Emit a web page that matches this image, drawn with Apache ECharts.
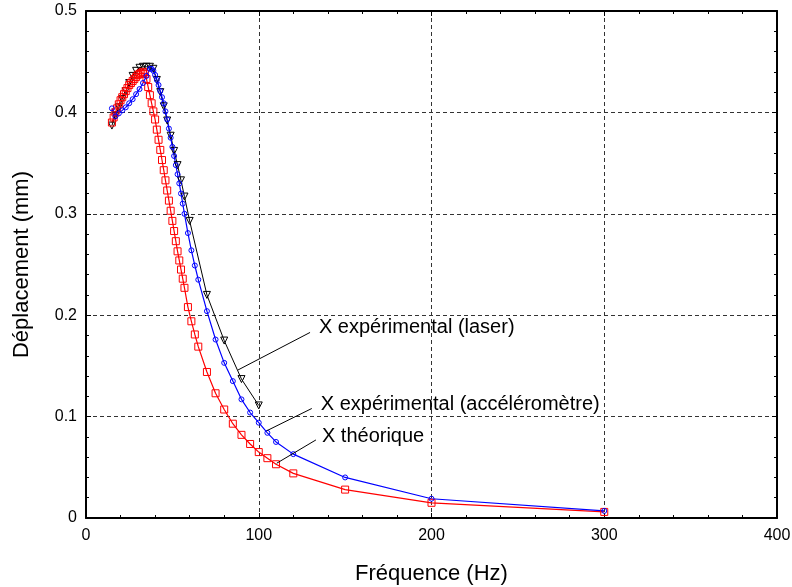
<!DOCTYPE html>
<html>
<head>
<meta charset="utf-8">
<script src="https://cdn.jsdelivr.net/npm/echarts@6.0.0/dist/echarts.min.js"></script>
<style>
  html, body { margin: 0; padding: 0; background: #fff; }
  #chart { width: 792px; height: 587px; }
</style>
</head>
<body>
<div id="chart"></div>
<script>
// X théorique (carrés rouges)
const freqTheo = [15, 16, 17, 18, 19, 20, 21, 22, 23, 24, 25, 26, 27, 28, 29, 30, 31, 32, 33, 34, 35, 36, 37, 38, 39,
  40, 41, 42, 43, 44, 45, 46, 47, 48, 49, 50, 51, 52, 53, 54, 55, 56, 57, 59, 61, 63, 65,
  70, 75, 80, 85, 90, 95, 100, 105, 110, 120, 150, 200, 300];
const dispTheo = [0.390, 0.395, 0.400, 0.404, 0.408, 0.412, 0.415, 0.418, 0.421, 0.424, 0.427, 0.429, 0.431, 0.433, 0.435, 0.437, 0.438, 0.439, 0.440, 0.438, 0.433, 0.425, 0.417, 0.409, 0.401,
  0.393, 0.383, 0.373, 0.363, 0.353, 0.343, 0.333, 0.323, 0.313, 0.303, 0.293, 0.283, 0.273, 0.263, 0.254, 0.245, 0.236, 0.227, 0.208, 0.194, 0.181, 0.169,
  0.144, 0.123, 0.107, 0.093, 0.082, 0.073, 0.065, 0.059, 0.053, 0.044, 0.028, 0.015, 0.006];

// X expérimental (accéléromètre) (cercles bleus)
const freqAccel = [15, 17, 19, 21, 23, 25, 27, 29, 31, 33, 35, 37, 38, 39, 40, 41, 42, 43, 44, 45, 46, 47, 48, 49,
  50, 51, 52, 53, 54, 55, 56, 57, 59, 61, 63, 65, 70, 75, 80, 85, 90, 95, 100, 105, 110, 120, 150, 200, 300];
const dispAccel = [0.404, 0.396, 0.399, 0.402, 0.405, 0.409, 0.413, 0.418, 0.423, 0.429, 0.436, 0.443, 0.443, 0.441, 0.437, 0.432, 0.427, 0.421, 0.415, 0.409, 0.401, 0.393, 0.384, 0.375,
  0.366, 0.357, 0.348, 0.339, 0.330, 0.320, 0.310, 0.300, 0.281, 0.264, 0.249, 0.235, 0.204, 0.176, 0.153, 0.135, 0.117, 0.104, 0.094, 0.084, 0.075, 0.063, 0.040, 0.019, 0.007];

// X expérimental (laser) (triangles noirs)
const freqLaser = [15, 17, 19, 21, 23, 25, 27, 29, 31, 33, 35, 37, 39, 41, 43, 45, 47, 49, 51, 53, 55, 57, 60, 70, 80, 90, 100];
const dispLaser = [0.387, 0.397, 0.405, 0.413, 0.421, 0.429, 0.436, 0.441, 0.444, 0.445, 0.445, 0.445, 0.443, 0.432, 0.420, 0.406, 0.392, 0.377, 0.362, 0.348, 0.333, 0.317, 0.293, 0.220, 0.175, 0.137, 0.111];

// annotations : texte, point sur la courbe, bout du trait (coordonnées données)
const noteTexts = ['X expérimental (laser)', 'X expérimental (accéléromètre)', 'X théorique'];
const noteFrom = [[88, 0.146], [104.6, 0.086], [110.4, 0.054]];
const noteTo = [[129.7, 0.183], [130.7, 0.108], [133.1, 0.077]];

const FONT = "'Liberation Sans', Arial, sans-serif";

function pairs(xs, ys) {
  return xs.map((x, i) => [x, ys[i]]);
}

const chart = echarts.init(document.getElementById('chart'));

const axisBase = {
  type: 'value',
  axisLine: { show: true, onZero: false, lineStyle: { color: '#000', width: 2 } },
  axisTick: { show: true, inside: true, length: 5, lineStyle: { color: '#000', width: 1 } },
  minorTick: { show: true, splitNumber: 5, length: 3, lineStyle: { color: '#000', width: 1 } },
};
const gridLine = { show: true, lineStyle: { color: '#333', width: 1, type: [4, 3] } };

const option = {
  animation: false,
  grid: { left: 86, right: 15, top: 11, bottom: 69, containLabel: false, outerBoundsMode: 'none' },
  xAxis: [
    Object.assign({}, axisBase, {
      position: 'bottom', min: 0, max: 400, interval: 100,
      axisLabel: { color: '#000', fontSize: 16, margin: 10, fontFamily: FONT },
      splitLine: gridLine,
      name: 'Fréquence (Hz)', nameLocation: 'middle', nameGap: 45,
      nameTextStyle: { color: '#000', fontSize: 22, fontFamily: FONT },
    }),
    Object.assign({}, axisBase, {
      position: 'top', min: 0, max: 400, interval: 100,
      axisLabel: { show: false }, splitLine: { show: false },
    }),
  ],
  yAxis: [
    Object.assign({}, axisBase, {
      position: 'left', min: 0, max: 0.5, interval: 0.1,
      axisLabel: { color: '#000', fontSize: 16, margin: 9, fontFamily: FONT },
      splitLine: gridLine,
      name: 'Déplacement (mm)', nameLocation: 'middle', nameGap: 53,
      nameTextStyle: { color: '#000', fontSize: 22, fontFamily: FONT },
    }),
    Object.assign({}, axisBase, {
      position: 'right', min: 0, max: 0.5, interval: 0.1,
      axisLabel: { show: false }, splitLine: { show: false },
    }),
  ],
  series: [
    {
      name: 'laser', type: 'line', data: pairs(freqLaser, dispLaser),
      symbol: 'triangle', symbolRotate: 180, symbolSize: 7,
      lineStyle: { color: '#000', width: 1 },
      itemStyle: { color: 'none', borderColor: '#000', borderWidth: 1 },
      markLine: {
        silent: true, symbol: 'none', animation: false,
        lineStyle: { color: '#000', width: 1, type: 'solid' },
        label: { show: true, position: 'end', formatter: '{b}', color: '#000', fontSize: 20, fontFamily: FONT },
        data: noteTexts.map((t, i) => [
          { name: t, coord: noteFrom[i], label: { distance: i === 2 ? 7 : 10 } },
          { coord: noteTo[i] },
        ]),
      },
    },
    {
      name: 'théorique', type: 'line', data: pairs(freqTheo, dispTheo),
      symbol: 'rect', symbolSize: 7,
      lineStyle: { color: '#ff0000', width: 1.2 },
      itemStyle: { color: 'none', borderColor: '#ff0000', borderWidth: 1 },
    },
    {
      name: 'accéléromètre', type: 'line', data: pairs(freqAccel, dispAccel),
      symbol: 'circle', symbolSize: 5,
      lineStyle: { color: '#0000ff', width: 1.2 },
      itemStyle: { color: 'none', borderColor: '#0000ff', borderWidth: 1 },
    },
  ],
};

chart.setOption(option);
</script>
</body>
</html>
